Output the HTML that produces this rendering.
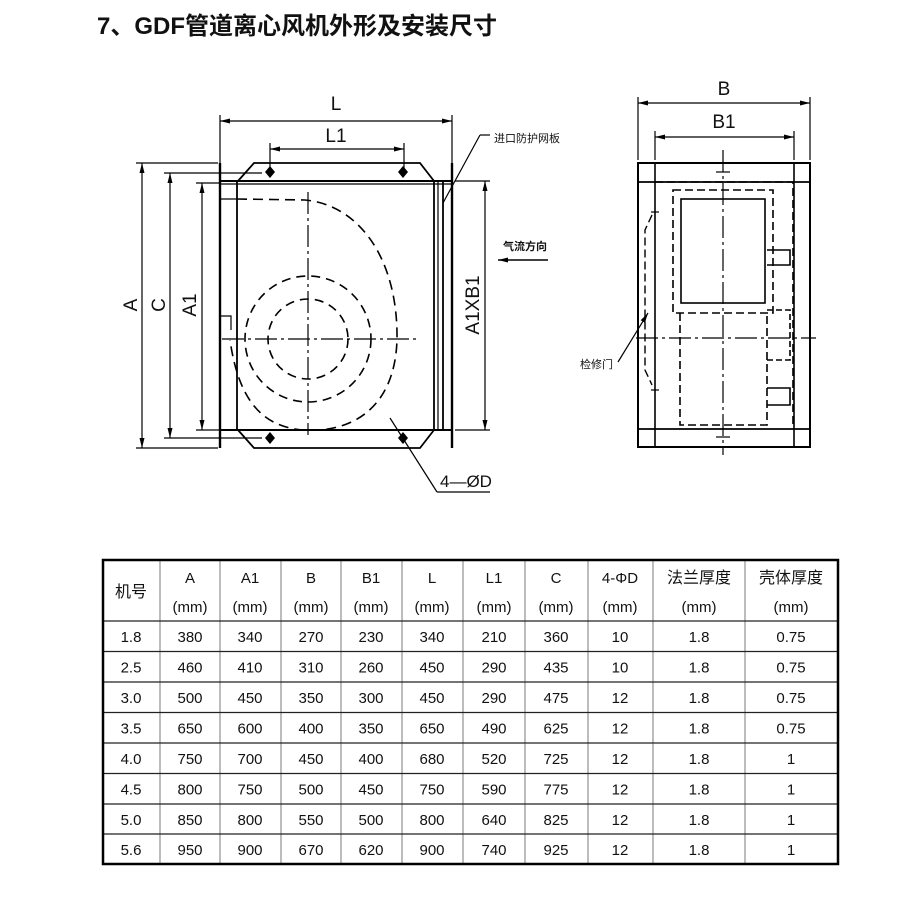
<!DOCTYPE html>
<html><head><meta charset="utf-8"><style>
html,body{margin:0;padding:0;background:#fff;width:920px;height:914px;overflow:hidden}
svg{display:block}
.t{font-family:"Liberation Sans","Noto Sans CJK SC",sans-serif;fill:#111}
</style></head><body>
<svg width="920" height="914" viewBox="0 0 920 914" xmlns="http://www.w3.org/2000/svg">
<defs>
<marker id="ar" markerWidth="10" markerHeight="6" refX="10" refY="3" orient="auto-start-reverse" markerUnits="userSpaceOnUse"><path d="M0,0.5 L10,3 L0,5.5 Z" fill="#000"/></marker>
</defs>
<text x="97" y="34" class="t" font-size="24" font-weight="bold">7、GDF管道离心风机外形及安装尺寸</text>

<g stroke="#000" fill="none" stroke-width="1.2">
<line x1="220" y1="121" x2="452" y2="121" marker-start="url(#ar)" marker-end="url(#ar)"/>
<line x1="220" y1="115" x2="220" y2="163"/><line x1="452" y1="115" x2="452" y2="163"/>
<line x1="270" y1="149" x2="404" y2="149" marker-start="url(#ar)" marker-end="url(#ar)"/>
<line x1="270" y1="143" x2="270" y2="172"/><line x1="404" y1="143" x2="404" y2="172"/>
<line x1="142" y1="163" x2="142" y2="448" marker-start="url(#ar)" marker-end="url(#ar)"/>
<line x1="136" y1="163" x2="218" y2="163"/><line x1="136" y1="448" x2="218" y2="448"/>
<line x1="170" y1="173" x2="170" y2="438" marker-start="url(#ar)" marker-end="url(#ar)"/>
<line x1="164" y1="173" x2="262" y2="173"/><line x1="164" y1="438" x2="262" y2="438"/>
<line x1="202" y1="183" x2="202" y2="430" marker-start="url(#ar)" marker-end="url(#ar)"/>
<line x1="196" y1="183" x2="220" y2="183"/><line x1="196" y1="430" x2="220" y2="430"/>
<line x1="485" y1="181" x2="485" y2="430" marker-start="url(#ar)" marker-end="url(#ar)"/>
<line x1="455" y1="181" x2="490" y2="181"/><line x1="455" y1="430" x2="490" y2="430"/>
<line x1="220" y1="163" x2="220" y2="448" stroke-width="2.4"/>
<line x1="452" y1="163" x2="452" y2="448" stroke-width="2.4"/>
<polyline points="238,181 254,163 420,163 434,181" stroke-width="1.8"/>
<polyline points="238,430 254,448 420,448 434,430" stroke-width="1.8"/>
<line x1="220" y1="181" x2="452" y2="181" stroke-width="2"/>
<line x1="220" y1="184" x2="452" y2="184"/>
<line x1="220" y1="430" x2="452" y2="430" stroke-width="2"/>
<line x1="220" y1="199" x2="237" y2="199"/>
<line x1="237" y1="181" x2="237" y2="430" stroke-width="1.8"/>
<line x1="434" y1="181" x2="434" y2="430" stroke-width="1.8"/>
<line x1="438" y1="181" x2="438" y2="430"/>
<line x1="443" y1="181" x2="443" y2="430" stroke-width="1.8"/>
<polyline points="220,316 231,316 231,330"/>
<line x1="308" y1="192" x2="308" y2="435" stroke-dasharray="22,4,3,4"/>
<line x1="222" y1="339" x2="418" y2="339" stroke-dasharray="22,4,3,4"/>
<circle cx="308" cy="339" r="40" stroke-dasharray="9,6" stroke-width="1.6"/>
<circle cx="308" cy="339" r="63" stroke-dasharray="9,6" stroke-width="1.6"/>
<path d="M237,199 L305,200 C360,205 398,260 397,339 C396,385 375,425 320,430 C270,433 240,410 230,340" stroke-dasharray="10,6" stroke-width="1.6"/>
<line x1="390" y1="418" x2="437" y2="492"/><line x1="437" y1="492" x2="490" y2="492"/>
<line x1="443" y1="203" x2="480" y2="135"/><line x1="480" y1="135" x2="490" y2="135"/>
<line x1="498" y1="260" x2="548" y2="260" marker-start="url(#ar)" stroke-width="1.6"/>
</g>
<g fill="#000">
<path d="M270,166 l5,6 -5,6 -5,-6z"/><path d="M403,166 l5,6 -5,6 -5,-6z"/>
<path d="M270,432 l5,6 -5,6 -5,-6z"/><path d="M403,432 l5,6 -5,6 -5,-6z"/>
</g>
<g class="t" font-size="17">
<text x="336" y="110" text-anchor="middle" font-size="19">L</text>
<text x="336" y="142" text-anchor="middle" font-size="19">L1</text>
<text x="137" y="305" transform="rotate(-90 137 305)" text-anchor="middle" font-size="19">A</text>
<text x="165" y="305" transform="rotate(-90 165 305)" text-anchor="middle" font-size="19">C</text>
<text x="196" y="305" transform="rotate(-90 196 305)" text-anchor="middle" font-size="19">A1</text>
<text x="479" y="305" transform="rotate(-90 479 305)" text-anchor="middle" font-size="19">A1XB1</text>
<text x="440" y="487" font-size="17">4—ØD</text>
<text x="494" y="142" font-size="11">进口防护网板</text>
<text x="503" y="250" font-size="11" font-weight="bold">气流方向</text>
<text x="580" y="368" font-size="11">检修门</text>
<text x="724" y="95" text-anchor="middle" font-size="19">B</text>
<text x="724" y="128" text-anchor="middle" font-size="19">B1</text>
</g>

<g stroke="#000" fill="none" stroke-width="1.2">
<line x1="638" y1="103" x2="810" y2="103" marker-start="url(#ar)" marker-end="url(#ar)"/>
<line x1="638" y1="97" x2="638" y2="160"/><line x1="810" y1="97" x2="810" y2="160"/>
<line x1="655" y1="137" x2="794" y2="137" marker-start="url(#ar)" marker-end="url(#ar)"/>
<line x1="655" y1="131" x2="655" y2="160"/><line x1="794" y1="131" x2="794" y2="160"/>
<rect x="638" y="163" width="172" height="284" stroke-width="2"/>
<line x1="638" y1="182" x2="810" y2="182" stroke-width="1.8"/>
<line x1="638" y1="429" x2="810" y2="429" stroke-width="1.8"/>
<line x1="655" y1="163" x2="655" y2="447" stroke-width="1.6"/>
<line x1="794" y1="163" x2="794" y2="447" stroke-width="1.6"/>
<rect x="673" y="190" width="100" height="123" stroke-dasharray="8,4" stroke-width="1.6"/>
<rect x="681" y="199" width="84" height="104" stroke-width="1.6"/>
<polyline points="680,313 680,425 767,425 767,313" stroke-dasharray="8,4" stroke-width="1.6"/>
<polyline points="655,182 793,182 793,425" stroke-dasharray="8,4" stroke-width="1.6"/>
<polyline points="767,250 790,250 790,265 767,265" stroke-width="1.6"/>
<polyline points="767,310 790,310 790,360 767,360" stroke-dasharray="6,3" stroke-width="1.6"/>
<polyline points="767,388 790,388 790,405 767,405" stroke-width="1.6"/>
<polyline points="652,215 645,230 645,370 652,385" stroke-dasharray="8,4" stroke-width="1.4"/>
<line x1="723" y1="150" x2="723" y2="455" stroke-dasharray="22,4,3,4"/>
<line x1="636" y1="338" x2="816" y2="338" stroke-dasharray="22,4,3,4"/>
<line x1="618" y1="362" x2="648" y2="313" marker-end="url(#ar)"/>
<line x1="716" y1="172" x2="730" y2="172"/><line x1="716" y1="437" x2="730" y2="437"/>
<line x1="651" y1="212" x2="659" y2="212"/><line x1="651" y1="390" x2="659" y2="390"/>
</g>

<g stroke="#999" stroke-width="1.3">
<line x1="160" y1="560" x2="160" y2="864"/><line x1="220" y1="560" x2="220" y2="864"/>
<line x1="281" y1="560" x2="281" y2="864"/><line x1="341" y1="560" x2="341" y2="864"/>
<line x1="402" y1="560" x2="402" y2="864"/><line x1="463" y1="560" x2="463" y2="864"/>
<line x1="525" y1="560" x2="525" y2="864"/><line x1="588" y1="560" x2="588" y2="864"/>
<line x1="653" y1="560" x2="653" y2="864"/><line x1="745" y1="560" x2="745" y2="864"/>
</g>
<g stroke="#222" stroke-width="1.2">
<line x1="103" y1="621" x2="838" y2="621"/><line x1="103" y1="651.5" x2="838" y2="651.5"/>
<line x1="103" y1="682" x2="838" y2="682"/><line x1="103" y1="712.5" x2="838" y2="712.5"/>
<line x1="103" y1="743" x2="838" y2="743"/><line x1="103" y1="773.5" x2="838" y2="773.5"/>
<line x1="103" y1="804" x2="838" y2="804"/><line x1="103" y1="834" x2="838" y2="834"/>
</g>
<rect x="103" y="560" width="735" height="304" fill="none" stroke="#000" stroke-width="2.5"/>
<g class="t" font-size="15" text-anchor="middle" fill="#222">
<text x="131" y="597" font-size="16">机号</text>
<text x="190" y="583">A</text><text x="190" y="612">(mm)</text>
<text x="250" y="583">A1</text><text x="250" y="612">(mm)</text>
<text x="311" y="583">B</text><text x="311" y="612">(mm)</text>
<text x="371" y="583">B1</text><text x="371" y="612">(mm)</text>
<text x="432" y="583">L</text><text x="432" y="612">(mm)</text>
<text x="494" y="583">L1</text><text x="494" y="612">(mm)</text>
<text x="556" y="583">C</text><text x="556" y="612">(mm)</text>
<text x="620" y="583">4-ΦD</text><text x="620" y="612">(mm)</text>
<text x="699" y="583" font-size="16">法兰厚度</text><text x="699" y="612">(mm)</text>
<text x="791" y="583" font-size="16">壳体厚度</text><text x="791" y="612">(mm)</text>
</g>
<g class="t" font-size="15" text-anchor="middle" fill="#222">
<text y="642"><tspan x="131">1.8</tspan><tspan x="190">380</tspan><tspan x="250">340</tspan><tspan x="311">270</tspan><tspan x="371">230</tspan><tspan x="432">340</tspan><tspan x="494">210</tspan><tspan x="556">360</tspan><tspan x="620">10</tspan><tspan x="699">1.8</tspan><tspan x="791">0.75</tspan></text>
<text y="672.5"><tspan x="131">2.5</tspan><tspan x="190">460</tspan><tspan x="250">410</tspan><tspan x="311">310</tspan><tspan x="371">260</tspan><tspan x="432">450</tspan><tspan x="494">290</tspan><tspan x="556">435</tspan><tspan x="620">10</tspan><tspan x="699">1.8</tspan><tspan x="791">0.75</tspan></text>
<text y="703"><tspan x="131">3.0</tspan><tspan x="190">500</tspan><tspan x="250">450</tspan><tspan x="311">350</tspan><tspan x="371">300</tspan><tspan x="432">450</tspan><tspan x="494">290</tspan><tspan x="556">475</tspan><tspan x="620">12</tspan><tspan x="699">1.8</tspan><tspan x="791">0.75</tspan></text>
<text y="733.5"><tspan x="131">3.5</tspan><tspan x="190">650</tspan><tspan x="250">600</tspan><tspan x="311">400</tspan><tspan x="371">350</tspan><tspan x="432">650</tspan><tspan x="494">490</tspan><tspan x="556">625</tspan><tspan x="620">12</tspan><tspan x="699">1.8</tspan><tspan x="791">0.75</tspan></text>
<text y="764"><tspan x="131">4.0</tspan><tspan x="190">750</tspan><tspan x="250">700</tspan><tspan x="311">450</tspan><tspan x="371">400</tspan><tspan x="432">680</tspan><tspan x="494">520</tspan><tspan x="556">725</tspan><tspan x="620">12</tspan><tspan x="699">1.8</tspan><tspan x="791">1</tspan></text>
<text y="794.5"><tspan x="131">4.5</tspan><tspan x="190">800</tspan><tspan x="250">750</tspan><tspan x="311">500</tspan><tspan x="371">450</tspan><tspan x="432">750</tspan><tspan x="494">590</tspan><tspan x="556">775</tspan><tspan x="620">12</tspan><tspan x="699">1.8</tspan><tspan x="791">1</tspan></text>
<text y="825"><tspan x="131">5.0</tspan><tspan x="190">850</tspan><tspan x="250">800</tspan><tspan x="311">550</tspan><tspan x="371">500</tspan><tspan x="432">800</tspan><tspan x="494">640</tspan><tspan x="556">825</tspan><tspan x="620">12</tspan><tspan x="699">1.8</tspan><tspan x="791">1</tspan></text>
<text y="855"><tspan x="131">5.6</tspan><tspan x="190">950</tspan><tspan x="250">900</tspan><tspan x="311">670</tspan><tspan x="371">620</tspan><tspan x="432">900</tspan><tspan x="494">740</tspan><tspan x="556">925</tspan><tspan x="620">12</tspan><tspan x="699">1.8</tspan><tspan x="791">1</tspan></text>
</g>
</svg>
</body></html>
